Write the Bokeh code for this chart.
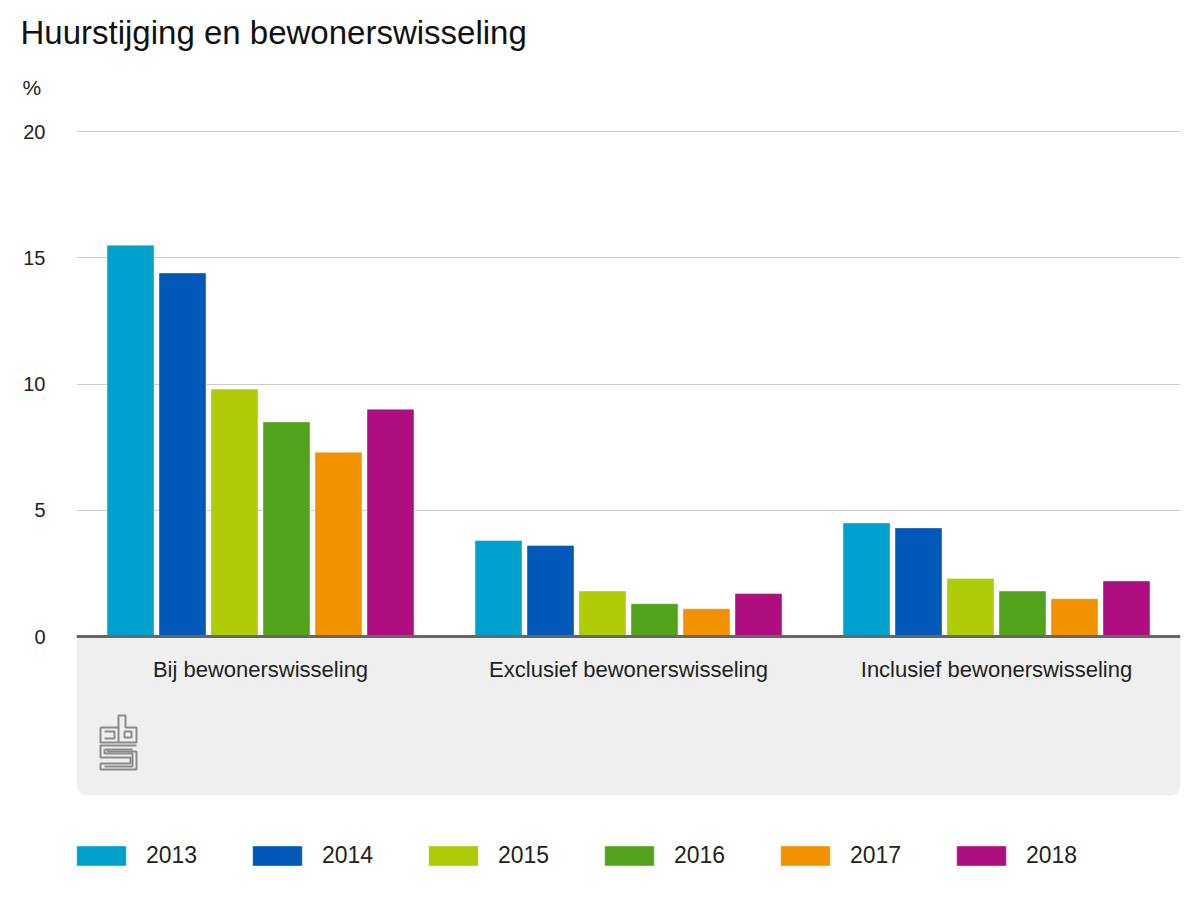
from bokeh.plotting import figure
from bokeh.models import (FactorRange, Range1d, FixedTicker, Legend, LegendItem,
                          BoxAnnotation, ColumnDataSource, Title)
from bokeh.transform import dodge
from bokeh.embed import file_html
from bokeh.resources import INLINE

# ---- data ----
categories = ["Bij bewonerswisseling", "Exclusief bewonerswisseling", "Inclusief bewonerswisseling"]
years = ["2013", "2014", "2015", "2016", "2017", "2018"]
v2013 = [15.5, 3.8, 4.5]
v2014 = [14.4, 3.6, 4.3]
v2015 = [9.8, 1.8, 2.3]
v2016 = [8.5, 1.3, 1.8]
v2017 = [7.3, 1.1, 1.5]
v2018 = [9.0, 1.7, 2.2]
y_ticks = [0, 5, 10, 15, 20]
colors = ["#00a1cd", "#0058b8", "#afcb05", "#53a31d", "#f39200", "#af0e80"]

FONT = "Liberation Sans"

src = ColumnDataSource(dict(cat=categories, y2013=v2013, y2014=v2014, y2015=v2015,
                            y2016=v2016, y2017=v2017, y2018=v2018))

# frame: x 76..1180, y top 127 .. bottom 892 ; value 20 at y=131, 0 at y=636
PX_PER_UNIT = 25.25
ymax = 20 + 4 / PX_PER_UNIT
ymin = 20 - (892 - 131) / PX_PER_UNIT

p = figure(width=1192, height=892, x_range=FactorRange(*categories, range_padding=0),
           y_range=Range1d(ymin, ymax), output_backend="svg", toolbar_location=None,
           title=None,
           min_border_left=76, min_border_right=12, min_border_top=127, min_border_bottom=0)
p.outline_line_color = None
p.background_fill_color = "white"


def px(x):
    return (x - 76) / 368.0


def py(y):
    return 20 - (y - 131) / PX_PER_UNIT


# grey band under the axis
band = BoxAnnotation(top=0, bottom=py(795), fill_color="#efefef", fill_alpha=1,
                     line_color=None, level="underlay", border_radius=(0, 0, 10, 10))
p.add_layout(band)

step = 52 / 368.0
bw = 47 / 368.0
renderers = []
for i, (yr, col) in enumerate(zip(years, colors)):
    off = (i - 2.5) * step
    r = p.vbar(x=dodge("cat", off, range=p.x_range), top="y" + yr, width=bw, source=src,
               fill_color=col, line_color="white", line_alpha=0.4, line_width=1)
    renderers.append(r)

# axes
p.xaxis.fixed_location = 0
p.xaxis.axis_line_color = "#666666"
p.xaxis.axis_line_width = 3
p.xaxis.major_tick_line_color = None
p.xaxis.major_tick_out = 0
p.xaxis.major_label_standoff = 20
p.xaxis.major_label_text_font = FONT
p.xaxis.major_label_text_font_size = "22px"
p.xaxis.major_label_text_color = "#222222"

p.yaxis.ticker = FixedTicker(ticks=y_ticks)
p.yaxis.axis_line_color = None
p.yaxis.major_tick_line_color = None
p.yaxis.minor_tick_line_color = None
p.yaxis.major_tick_out = 0
p.yaxis.major_tick_in = 0
p.yaxis.major_label_standoff = 31
p.yaxis.major_label_text_font = FONT
p.yaxis.major_label_text_font_size = "20px"
p.yaxis.major_label_text_color = "#222222"

p.xgrid.visible = False
p.ygrid.grid_line_color = "#cccccc"
p.ygrid.grid_line_width = 1

# unit label and title (stacked above the frame)
p.add_layout(Title(text="%", align="left", offset=-54, text_font=FONT, text_font_size="21px",
                   text_font_style="normal", text_color="#222222", standoff=58), "above")
p.add_layout(Title(text="Huurstijging en bewonerswisseling", align="left", offset=-56,
                   text_font=FONT, text_font_size="33px", text_font_style="normal",
                   text_color="#111111", standoff=-12), "above")

# cbs logo (decoration)
logo = [
    [(100, 727), (118, 727)],
    [(100, 727), (100, 742), (118, 742)],
    [(104, 731), (114, 731), (114, 738), (104, 738)],
    [(118, 742), (136, 742), (136, 727), (125, 727), (125, 715), (118, 715), (118, 742)],
    [(124, 731), (131, 731), (131, 737), (124, 737), (124, 731)],
    [(136, 745), (100, 745), (100, 757), (130, 757), (130, 763), (100, 763), (100, 769), (136, 769), (136, 751), (106, 751)],
    [(104, 749), (132, 749)],
    [(104, 749), (104, 753), (132, 753), (132, 766), (104, 766)],
]
p.multi_line(xs=[[px(a) for a, b in seg] for seg in logo],
             ys=[[py(b) for a, b in seg] for seg in logo],
             line_color="#8a8a8a", line_width=2)

legend = Legend(items=[LegendItem(label=yr, renderers=[r]) for yr, r in zip(years, renderers)],
                orientation="horizontal", location=(-6, 23), glyph_width=62, glyph_height=25,
                label_standoff=14, label_width=100, spacing=0, padding=0, margin=0,
                border_line_color=None, background_fill_alpha=0,
                label_text_font=FONT, label_text_font_size="23px", label_text_color="#222222",
                label_height=20)
p.add_layout(legend)

open("out.html", "w").write(file_html(p, INLINE))
